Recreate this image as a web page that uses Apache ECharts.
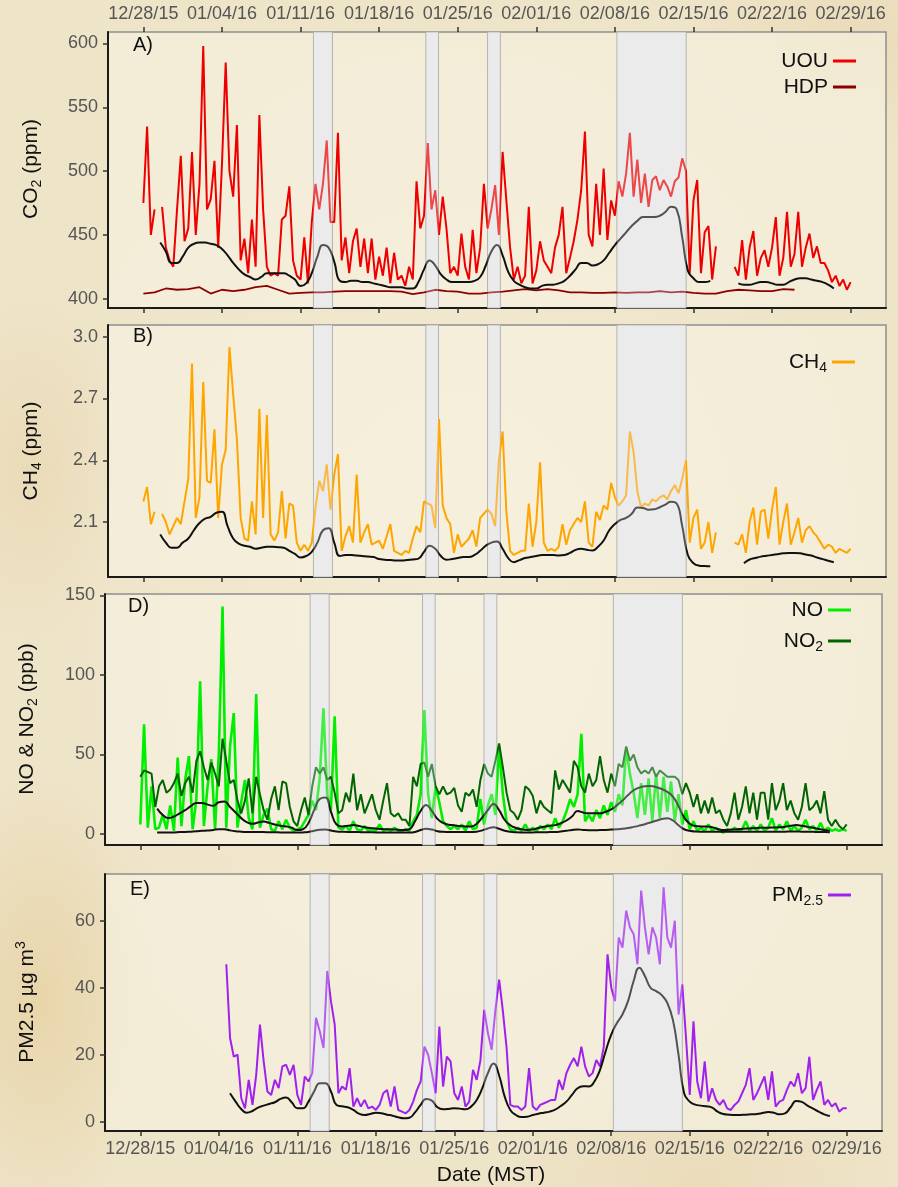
<!DOCTYPE html>
<html>
<head>
<meta charset="utf-8">
<script src="https://cdn.jsdelivr.net/npm/echarts@6/dist/echarts.min.js"></script>
<style>
  html, body { margin: 0; padding: 0; width: 898px; height: 1187px; overflow: hidden; }
  body {
    background:
      radial-gradient(ellipse 170px 330px at 40px 1000px, rgba(224, 192, 128, 0.42), rgba(224, 192, 128, 0) 70%),
      radial-gradient(ellipse 150px 260px at 30px 470px, rgba(226, 200, 150, 0.32), rgba(226, 200, 150, 0) 70%),
      radial-gradient(ellipse 260px 160px at 860px 40px, rgba(228, 206, 160, 0.38), rgba(228, 206, 160, 0) 70%),
      radial-gradient(ellipse 300px 200px at 700px 1180px, rgba(226, 204, 158, 0.32), rgba(226, 204, 158, 0) 70%),
      radial-gradient(ellipse 520px 700px at 450px 600px, rgba(246, 240, 222, 0.5), rgba(246, 240, 222, 0) 80%),
      #eee4c8;
  }
  #chart { width: 898px; height: 1187px; }
</style>
</head>
<body>
<div id="chart"></div>
<script>
// Time is in days since 12/28/15 00:00 MST.
const tickDays = [0, 7, 14, 21, 28, 35, 42, 49, 56, 63];
const tickLabels = ['12/28/15', '01/04/16', '01/11/16', '01/18/16', '01/25/16',
                    '02/01/16', '02/08/16', '02/15/16', '02/22/16', '02/29/16'];

// Shaded episodes [start day, end day]
const shadedPeriods = [[15.15, 16.84], [25.17, 26.29], [30.66, 31.79], [42.19, 48.34]];

// CO2 at UOU (ppm), every 8 h from day 0
const co2UOU = [
  475, 535, 450,  470, null, 472,  440, 430, 425,  470, 512, 445,  455, 515, 450,
  490, 598, 470,  478, 508, 440,  505, 585, 500,  480, 536, 430,  447, 420, 462,
  425, 544, 470,  425, 418, 420,  418, 462, 465,  488, 430, 418,  415, 448, 412,
  460, 490, 470,  490, 524, 460,  460, 530, 430,  448, 420, 445,  455, 425, 447,
  420, 447, 415,  433, 418, 440,  412, 436, 415,  418, 410, 425,  415, 492, 455,
  465, 522, 470,  485, 450, 480,  455, 420, 425,  418, 451, 425,  415, 454, 420,
  440, 490, 455,  470, 489, 450,  515, 477, 440,  415, 425, 412,  418, 472, 412,
  422, 445, 430,  425, 420, 440,  450, 472, 420,  432, 445, 462,  485, 531, 450,
  441, 490, 450,  502, 446, 477,  465, 492, 480,  498, 530, 480,  509, 475, 498,
  472, 493, 496,  485, 493, 488,  480, 492, 495,  510, 500, 420,  477, 493, 420,
  452, 457, 415,  441, null, null, null, null, 425, 418, 446, 415,  440, 453, 418,
  432, 438, 425,  440, 464, 418,  432, 468, 425,  435, 468, 425,  440, 451, 432,
  441, 428, 428,  422, 413, 418,  410, 415, 407,  413
];
// CO2 at HDP (ppm), daily from day 0
const co2HDP = [
  404, 405, 408, 407, 407.5, 409, 404, 407, 406, 407,
  409, 410, 407, 404, 404.5, 405, 405, 405.5, 406, 406,
  406, 406, 406, 405.5, 403.5, 405, 407, 406, 405.5, 404,
  404, 405, 405.5, 406.5, 407.5, 406.5, 407.5, 406.5, 405, 405,
  404.5, 404.5, 405, 404.5, 405, 405, 406, 405, 405.5, 404.5,
  404, 404, 406, 407, 406.5, 406, 406, 407.5, 407
];
// Smoothed UOU CO2, every 12 h from day 1.5
const co2Smooth = [
  444,
  437, 428,  428, 433,  440, 443,  444, 444,  443, 442,  439, 434,  428, 423,  419, 417,
  415, 417,  420, 420,  420, 420,  418, 415,  410, 412,  420, 433,  442, 440,  429, 414,
  413, 414,  414, 413,  413, 412,  411, 410,  409, 409,  409, 408,  408, 413,  423, 430,
  426, 419,  415, 413,  413, 413,  413, 414,  417, 426,  437, 442,  434, 421,  414, 411,
  409, 408,  408, 410,  411, 411,  412, 414,  418, 423,  428, 428,  426, 427,  430, 436,
  442, 447,  452, 457,  461, 464,  464, 464,  465, 468,  472, 470,  448, 422,  416, 413,
  413, 414,  null, null, null, null, 412, 411, 411, 412,  413, 413,  412, 411,  411, 413,
  415, 416,  416, 415,  414, 413,  411, 408
];

// CH4 at UOU (ppm), every 8 h from day 0
const ch4 = [
  2.20, 2.27, 2.09,  2.15, null, 2.14,  2.10, 2.04, 2.08,  2.12, 2.09, 2.20,  2.31, 2.87, 2.12,
  2.22, 2.78, 2.30,  2.29, 2.55, 2.12,  2.38, 2.45, 2.95,  2.72, 2.50, 2.12,  2.02, 2.01, 2.20,
  2.04, 2.65, 2.12,  2.62, 2.04, 2.01,  2.05, 2.25, 2.02,  2.19, 2.18, 2.00,  1.96, 1.99, 1.96,
  2.00, 2.17, 2.30,  2.25, 2.38, 2.16,  2.33, 2.43, 1.96,  2.03, 2.08, 2.00,  2.33, 2.00, 2.05,
  2.09, 1.99, 2.00,  2.01, 1.97, 2.03,  2.09, 1.96, 1.95,  1.94, 1.96, 1.95,  2.02, 2.08, 2.05,
  2.20, 2.19, 2.18,  2.07, 2.60, 2.18,  2.12, 2.09, 1.95,  2.04, 1.98, 2.00,  2.02, 2.06, 1.98,
  2.12, 2.14, 2.16,  2.14, 2.08, 2.40,  2.54, 2.15, 1.96,  1.94, 1.95, 1.96,  1.96, 2.19, 1.98,
  2.10, 2.39, 2.00,  1.96, 1.97, 1.96,  1.98, 2.09, 1.99,  2.06, 2.09, 2.12,  2.10, 2.20, 2.00,
  1.98, 2.15, 2.11,  2.18, 2.16, 2.29,  2.22, 2.18, 2.20,  2.23, 2.54, 2.44,  2.25, 2.17, 2.19,
  2.18, 2.21, 2.20,  2.22, 2.23, 2.21,  2.25, 2.28, 2.24,  2.31, 2.40, 2.00,  2.12, 2.16, 1.97,
  2.00, 2.10, 1.95,  2.05, null, null,  null, null, 2.00,  1.99, 2.04, 1.95,  2.10, 2.17, 1.99,
  2.15, 2.16, 2.02,  2.16, 2.27, 1.99,  2.10, 2.19, 1.99,  2.05, 2.12, 2.00,  2.06, 2.08, 2.05,
  2.03, 2.00, 1.97,  1.99, 1.98, 1.95,  1.97, 1.96, 1.95,  1.97
];
// Smoothed CH4, every 12 h from day 1.5
const ch4Smooth = [
  2.04,
  2.00, 1.975,  1.975, 2.00,  2.02, 2.06,  2.095, 2.116,  2.125, 2.145,  2.15, 2.08,  2.02, 1.995,
  1.985, 1.98,  1.97, 1.975,  1.98, 1.98,  1.978, 1.975,  1.96, 1.945,  1.928, 1.935,  1.955, 2.00,
  2.06, 2.07,  2.00, 1.935,  1.94, 1.94,  1.937, 1.935,  1.932, 1.93,  1.92, 1.917,  1.915, 1.913,
  1.913, 1.915,  1.918, 1.922,  1.955, 1.985,  1.97, 1.935,  1.917, 1.92,  1.925, 1.93,  1.93, 1.94,
  1.96, 1.985,  2.00, 2.005,  1.97, 1.925,  1.905, 1.915,  1.925, 1.93,  1.935, 1.94,  1.94, 1.94,
  1.938, 1.94,  1.95, 1.965,  1.97, 1.965,  1.962, 1.98,  2.01, 2.06,  2.09, 2.11,  2.12, 2.14,
  2.17, 2.168,  2.16, 2.162,  2.172, 2.185,  2.198, 2.19,  2.08, 1.94,  1.90, 1.888,  1.886, 1.885,
  null, null,  null, null,  null, 1.90,  1.918, 1.925,  1.932, 1.936,  1.94, 1.944,  1.948, 1.95,
  1.95, 1.948,  1.942, 1.937,  1.928, 1.92,  1.912, 1.905
];

// NO and NO2 (ppb), every 8 h from day 0
const no = [
  6, 69, 4,  30, 3, 4,  12, 3, 18,  2, 48, 5,  34, 49, 3,
  22, 96, 5,  30, 47, 3,  50, 143, 4,  55, 76, 4,  20, 34, 10,
  3, 88, 4,  12, 16, 3,  2, 8, 3,  9, 4, 2,  3, 4, 8,
  12, 21, 15,  35, 79, 25,  15, 74, 4,  3, 5, 2,  8, 3, 2,
  5, 2, 3,  2, 6, 2,  3, 2, 4,  2, 2, 3,  2, 8, 12,
  25, 78, 25,  10, 30, 20,  8, 5, 3,  5, 3, 6,  2, 8, 3,
  4, 22, 6,  18, 25, 12,  55, 25, 8,  3, 2, 4,  2, 6, 2,
  4, 2, 5,  3, 6, 3,  10, 4, 8,  14, 22, 17,  25, 63, 8,
  12, 8, 15,  10, 18, 12,  20, 14, 25,  18, 54, 38,  26, 10, 32,
  12, 35, 8,  38, 10, 36,  14, 33, 8,  25, 6, 15,  3, 8, 2,
  4, 2, 6,  2, 4, 2,  1, 3, 2,  4, 2, 3,  8, 2, 5,
  2, 6, 2,  4, 10, 2,  6, 3, 8,  2, 5, 2,  4, 9, 3,
  5, 2, 7,  2, 4, 2,  3, 2, 3,  2
];
const no2 = [
  36, 40, 39,  38, 17, 30,  34, 26, 28,  32, 38, 24,  32, 36, 26,
  46, 52, 42,  34, 45, 38,  30, 60, 46,  32, 34, 21,  13, 21, 35,
  13, 36, 25,  15, 9, 22,  30, 15, 33,  32, 17, 8,  5, 15, 23,
  12, 30, 42,  38, 42, 34,  36, 26, 13,  15, 26, 20,  38, 15, 25,
  13, 19, 25,  15, 9, 21,  32, 13, 11,  13, 9, 9,  5, 36, 30,
  44, 45, 36,  44, 30, 25,  30, 25, 26,  29, 18, 14,  26, 24, 28,
  17, 34, 44,  38, 36, 46,  57, 42, 26,  15, 13, 9,  15, 30, 28,
  24, 13, 21,  17, 15, 13,  40, 28, 34,  30, 26, 46,  42, 30, 26,
  38, 30, 34,  49, 34, 26,  38, 30, 44,  42, 55, 46,  50, 42, 38,
  40, 38, 42,  36, 40, 38,  36, 36, 36,  34, 25, 32,  26, 17, 25,
  13, 21, 13,  23, 13, 15,  9, 5, 13,  26, 9, 17,  30, 13, 26,
  9, 26, 26,  9, 32, 15,  21, 32, 15,  21, 13, 9,  17, 32, 15,
  17, 21, 13,  27, 9, 5,  9, 5, 3,  6
];
// Smoothed NO2 and NO, every 12 h from day 1.5
const no2Smooth = [
  16,
  12, 10,  11, 13,  15, 17.5,  19.5, 19.5,  18.5, 17.8,  20, 20.5,  17, 13.5,  10, 7.5,
  6.5, 7.2,  7.8, 7,  6, 5.2,  4.8, 4,  2.5, 3,  7, 15,  22, 23,  14, 6,
  4.8, 5.2,  5.6, 5,  4.3, 3.8,  3.5, 3.2,  3, 2.9,  2.7, 2.5,  3, 8,  14.5, 18.3,
  14.5, 9.5,  7, 5.8,  5.5, 5,  4.8, 4.7,  6.5, 10.5,  15, 18.9,  15, 8.8,  5.5, 3.8,
  3, 2.6,  2.8, 3.8,  4.6, 5.2,  5.6, 6.8,  8.5, 11,  14.5, 13.5,  13, 13,  13, 14,
  15.5, 18,  21, 24.5,  27.5, 29.2,  30, 30.2,  29.5, 28.3,  26.5, 23.5,  17.5, 10.5,  6.5, 5,
  4.8, 4.7,  4.3, 3.2,  2.5, 2.7,  2.9, 3.1,  3.4, 3.6,  3.8, 4,  4, 4.1,  4.2, 4.6,
  5.2, 5.6,  5.2, 4.5,  3.9, 3.2,  2.6, 2.1
];
const noSmooth = [
  1,
  1, 1,  1, 1.2,  1.3, 1.5,  1.7, 2,  2.2, 2.6,  3, 3,  2.3, 1.8,  1.5, 1.3,
  1.2, 1.2,  1.2, 1.1,  1.1, 1,  1, 1,  0.9, 1,  1.3, 2,  2.7, 2.8,  2.2, 1.6,
  1.4, 1.3,  1.3, 1.2,  1.1, 1.1,  1, 1,  1, 1,  1, 0.9,  0.9, 1.3,  2.5, 3.3,
  2.8, 1.8,  1.4, 1.3,  1.2, 1.2,  1.2, 1.2,  1.5, 2.3,  3.5, 4.2,  3.3, 2.1,  1.4, 1.1,
  1, 1,  1, 1.1,  1.1, 1.2,  1.3, 1.6,  2, 2.6,  2.9, 2.6,  2.4, 2.4,  2.5, 2.6,
  2.8, 3,  3.3, 3.8,  4.5, 5.3,  6.2, 7.2,  8.3, 9.4,  9.9, 8.5,  5.5, 3,  2, 1.6,
  1.5, 1.5,  1.5, 1.5,  1.4, 1.4,  1.4, 1.4,  1.5, 1.5,  1.5, 1.5,  1.5, 1.5,  1.5, 1.5,
  1.6, 1.6,  1.5, 1.5,  1.4, 1.3,  1.2, 1.1
];

// PM2.5 (ug m-3), every 8 h from day 7.67
const pm25 = [
  47,  25, 19.4, 20,  7, 4, 12.5,  5, 14, 29,  18, 9, 8,  12.5, 10, 16.5,
  17, 14, 17,  8, 5, 13.5,  12, 14.5, 31,  27, 22, 45,  36, 29, 8.5,
  10.5, 9.5, 16,  4.5, 7, 4.5,  6.5, 4, 4.5,  3.5, 5, 8.5,  9.5, 4.5, 10.5,
  3.5, 3, 2.5,  3.5, 6, 9.5,  12, 22.4, 20,  14.5, 8.5, 28.4,  10.5, 19.4, 18,
  8.5, 6.5, 10.5,  4.5, 6, 15.5,  12.5, 18.4, 33.4,  26.4, 21.5, 33.4,  42.4, 33, 22,
  5, 4.5, 4.5,  3.5, 4.5, 16,  4.5, 3.5, 5,  5.5, 6, 6.5,  6.5, 12.5, 9.5,
  14.5, 17, 19,  16.5, 22.4, 16.5,  13.5, 14.5, 18.4,  16.5, 22.4, 50,  40, 36, 55,
  52, 63, 58,  56, 47, 69,  58, 50, 58,  55, 47, 70,  55, 52, 60,
  32, 41, 25,  8, 30, 12,  7, 18, 6,  10, 6.5, 5,  6.5, 4, 3.5,
  5, 6, 8.5,  11, 16, 6.5,  8.5, 11, 13.5,  6.5, 15, 4.5,  6, 6.5, 9.5,
  12, 10.5, 14.5,  8.5, 10, 19.4,  6.5, 9.5, 12,  5, 6.5, 4.5,  5.5, 3, 4,  4
];
// Smoothed PM2.5, every 12 h from day 8
const pm25Smooth = [
  8.5, 6,  3.8, 2.7,  3.2, 4.2,  4.8, 5.3,  5.8, 6.8,  7.2, 5.8,  4, 4,  6, 9,
  11.5, 11.5,  9, 5,  4.6, 4.3,  3.5, 2.4,  2, 2.3,  2.7, 2.5,  2.1, 1.8,  1.3, 1,
  1.2, 2.8,  5, 6.8,  6.3, 4.3,  3.7, 3.8,  4, 3.9,  3.7, 4.5,  6.5, 10,  14.5, 17.4,
  13.8, 7.5,  3.5, 2,  1.4, 1.5,  2, 2.4,  2.7, 3,  3.6, 4.7,  6, 8,  10, 10.6,
  10.5, 12,  15.5, 21,  26, 29.4,  32, 36,  42, 46,  43.5, 40,  39, 37.8,  35.5, 30.4,
  20, 8.5,  6, 5.1,  4.8, 4.6,  4.2, 3,  2.3, 2.1,  2, 2,  2.1, 2.2,  2.3, 2.6,
  2.9, 2.7,  2.2, 2.5,  4.3, 6.2,  5.9, 4.8,  3.9, 3,  2.2, 1.7
];

function toPoints(values, startDay, stepDays) {
  return values.map((v, i) => [startDay + i * stepDays, v]);
}

const FONT = "'Liberation Sans', Arial, Helvetica, sans-serif";
const TICK_COLOR = '#333';
const LABEL_COLOR = '#555';

const panels = [
  { grid: { left: 108, top: 32, width: 778, height: 276 }, min: 392.7, max: 609,  ticks: [400, 450, 500, 550, 600], fmt: v => String(v) },
  { grid: { left: 108, top: 325, width: 778, height: 252 }, min: 1.833, max: 3.057, ticks: [2.1, 2.4, 2.7, 3.0], fmt: v => v.toFixed(1) },
  { grid: { left: 105, top: 594, width: 777, height: 251 }, min: -6.9, max: 150.9, ticks: [0, 50, 100, 150], fmt: v => String(v) },
  { grid: { left: 105, top: 874, width: 777, height: 257 }, min: -2.78, max: 73.96, ticks: [0, 20, 40, 60], fmt: v => String(v) }
];

const X_MIN = -3.15, X_MAX = 66.15;
const dateLabel = v => tickLabels[Math.round(v / 7)];

const grid = panels.map(p => Object.assign({
  show: true,
  backgroundColor: 'rgba(248, 244, 229, 0.55)',
  borderColor: '#8e8e8e',
  borderWidth: 1.5
}, p.grid));

const xAxis = panels.map((p, i) => ({
  type: 'value', gridIndex: i, min: X_MIN, max: X_MAX, position: 'bottom',
  axisLine: { show: true, onZero: false, lineStyle: { color: '#1a1a1a', width: 2 } },
  axisTick: { show: true, customValues: tickDays, length: 5, lineStyle: { color: TICK_COLOR, width: 1.5 } },
  axisLabel: { show: i === 3, customValues: tickDays, formatter: dateLabel, margin: 9,
               color: LABEL_COLOR, fontFamily: FONT, fontSize: 18 },
  splitLine: { show: false }
}));
// Date labels along the top of the first panel
xAxis.push({
  type: 'value', gridIndex: 0, min: X_MIN, max: X_MAX, position: 'top',
  axisLine: { show: false },
  axisTick: { show: true, customValues: tickDays, length: 5, lineStyle: { color: TICK_COLOR, width: 1.5 } },
  axisLabel: { show: true, customValues: tickDays, formatter: dateLabel, margin: 9,
               color: LABEL_COLOR, fontFamily: FONT, fontSize: 18 },
  splitLine: { show: false }
});

const yAxis = panels.map((p, i) => ({
  type: 'value', gridIndex: i, min: p.min, max: p.max,
  axisLine: { show: true, onZero: false, lineStyle: { color: '#1a1a1a', width: 2 } },
  axisTick: { show: true, customValues: p.ticks, length: 5, lineStyle: { color: TICK_COLOR, width: 1.5 } },
  axisLabel: { show: true, customValues: p.ticks, formatter: p.fmt, margin: 10,
               color: LABEL_COLOR, fontFamily: FONT, fontSize: 18 },
  splitLine: { show: false }
}));

const bandData = shadedPeriods.map(p => [{ xAxis: p[0] }, { xAxis: p[1] }]);
const bandUnder = {
  silent: true, z: 1,
  itemStyle: { color: '#ebebeb', borderColor: '#a9a9a9', borderWidth: 1 },
  data: bandData
};
const bandOver = {
  silent: true, z: 4,
  itemStyle: { color: 'rgba(235, 235, 235, 0.3)', borderWidth: 0 },
  data: bandData
};

function line(name, idx, pts, color, width, extra) {
  return Object.assign({
    name, type: 'line', xAxisIndex: idx, yAxisIndex: idx, data: pts,
    showSymbol: false, symbol: 'none', connectNulls: false, animation: false,
    color, lineStyle: { color, width }, z: 2
  }, extra || {});
}
const smooth = (name, idx, pts) =>
  line(name, idx, pts, '#111', 2, { smooth: 0.5, z: 3 });

const series = [
  line('UOU', 0, toPoints(co2UOU, 0, 1 / 3), '#ee0000', 2, { markArea: bandUnder }),
  line('HDP', 0, toPoints(co2HDP, 0, 1), '#8b0000', 1.8),
  smooth('UOU smooth', 0, toPoints(co2Smooth, 1.5, 0.5)),
  Object.assign(smooth('UOU smooth overlay', 0, []), { markArea: bandOver }),

  line('CH4', 1, toPoints(ch4, 0, 1 / 3), '#ffa500', 2, { markArea: bandUnder }),
  smooth('CH4 smooth', 1, toPoints(ch4Smooth, 1.5, 0.5)),
  Object.assign(smooth('CH4 overlay', 1, []), { markArea: bandOver }),

  line('NO', 2, toPoints(no, 0, 1 / 3), '#00ee00', 2.6, { markArea: bandUnder }),
  line('NO2', 2, toPoints(no2, 0, 1 / 3), '#006400', 2),
  smooth('NO2 smooth', 2, toPoints(no2Smooth, 1.5, 0.5)),
  smooth('NO smooth', 2, toPoints(noSmooth, 1.5, 0.5)),
  Object.assign(smooth('NO overlay', 2, []), { markArea: bandOver }),

  line('PM2.5', 3, toPoints(pm25, 7.67, 1 / 3), '#a020f0', 2, { markArea: bandUnder }),
  smooth('PM2.5 smooth', 3, toPoints(pm25Smooth, 8, 0.5)),
  Object.assign(smooth('PM overlay', 3, []), { markArea: bandOver })
];

const subRich = {
  sub: { fontFamily: FONT, fontSize: 14, lineHeight: 14, verticalAlign: 'bottom', color: '#111' },
  sup: { fontFamily: FONT, fontSize: 14, lineHeight: 14, verticalAlign: 'top', color: '#111' }
};
const legendNames = { 'CH4': 'CH{sub|4}', 'NO2': 'NO{sub|2}', 'PM2.5': 'PM{sub|2.5}' };
function legend(names, left, top, width, gap) {
  return {
    data: names, orient: 'vertical', left, top, align: 'right',
    icon: 'rect', itemWidth: 23, itemHeight: 3, itemGap: gap,
    selectedMode: false,
    formatter: n => legendNames[n] || n,
    textStyle: { fontFamily: FONT, fontSize: 21, color: '#111', width, lineHeight: 26, rich: subRich }
  };
}

const titleStyle = (text, x, y) => ({
  type: 'text', x, y, rotation: Math.PI / 2,
  style: { text, fontFamily: FONT, fontSize: 21, fill: '#111', align: 'center',
           verticalAlign: 'middle', lineHeight: 26, rich: subRich }
});
const panelLabel = (text, x, y) => ({
  type: 'text', x, y,
  style: { text, fontFamily: FONT, fontSize: 20, fill: '#111', align: 'left', verticalAlign: 'middle' }
});

const chart = echarts.init(document.getElementById('chart'), null, { renderer: 'canvas' });
chart.setOption({
  backgroundColor: 'transparent',
  animation: false,
  grid, xAxis, yAxis, series,
  legend: [
    legend(['UOU', 'HDP'], 775, 43, 48, 0),
    legend(['CH4'], 775, 344, 47, 0),
    legend(['NO', 'NO2'], 773, 592, 45, 5),
    legend(['PM2.5'], 765, 877, 53, 0)
  ],
  graphic: [
    panelLabel('A)', 133, 45),
    panelLabel('B)', 133, 336),
    panelLabel('D)', 128, 606),
    panelLabel('E)', 130, 889),
    titleStyle('CO{sub|2} (ppm)', 31, 169),
    titleStyle('CH{sub|4} (ppm)', 31, 451),
    titleStyle('NO & NO{sub|2} (ppb)', 27, 719),
    titleStyle('PM2.5 µg m{sup|3}', 27, 1002),
    { type: 'text', x: 491, y: 1175,
      style: { text: 'Date (MST)', fontFamily: FONT, fontSize: 21, fill: '#111',
               align: 'center', verticalAlign: 'middle' } }
  ]
});
</script>
</body>
</html>
